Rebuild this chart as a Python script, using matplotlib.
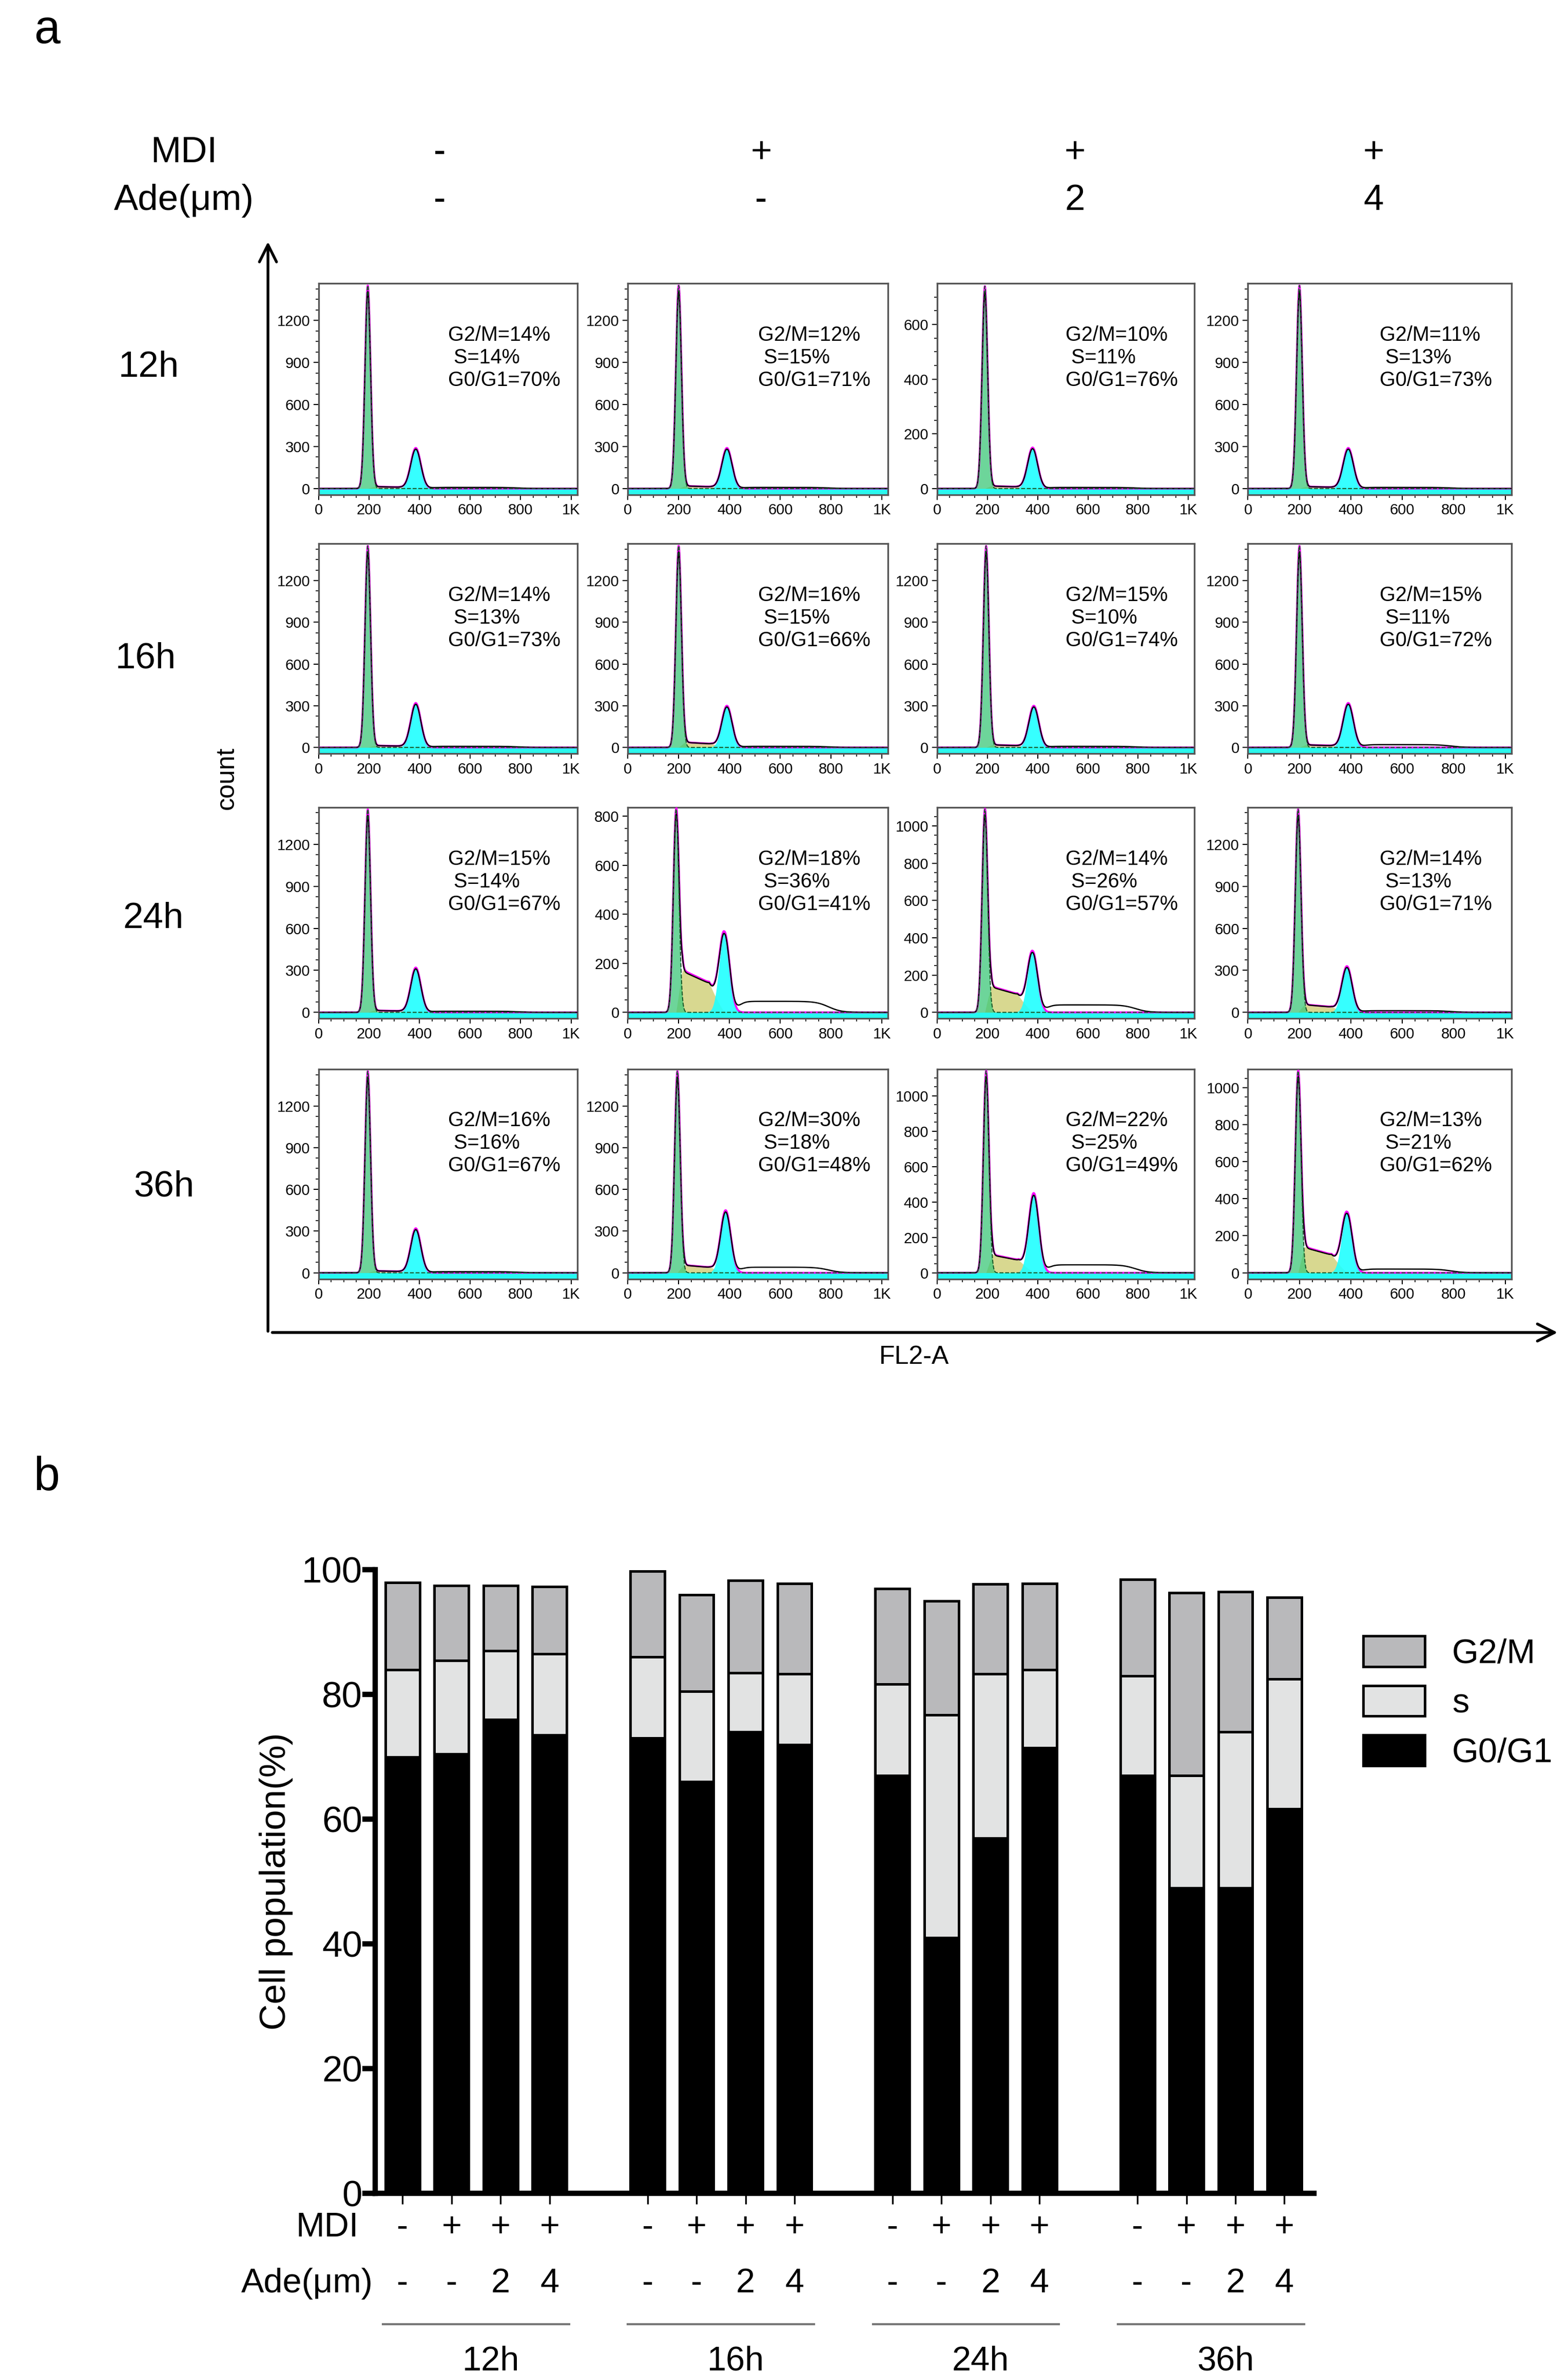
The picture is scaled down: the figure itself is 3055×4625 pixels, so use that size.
import numpy as np
import matplotlib
matplotlib.use("Agg")
import matplotlib.pyplot as plt

# ---------------- data ----------------
times = ["12h", "16h", "24h", "36h"]
mdi = ["-", "+", "+", "+"]
ade = ["-", "-", "2", "4"]

# panel a: percentages printed in each histogram (rows = time, cols = treatment)
g2m_pct = [[14, 12, 10, 11], [14, 16, 15, 15], [15, 18, 14, 14], [16, 30, 22, 13]]
s_pct = [[14, 15, 11, 13], [13, 15, 10, 11], [14, 36, 26, 13], [16, 18, 25, 21]]
g1_pct = [[70, 71, 76, 73], [73, 66, 74, 72], [67, 41, 57, 71], [67, 48, 49, 62]]

# y axis top tick of each histogram and visible y range
y_top_tick = [[1200, 1200, 600, 1200], [1200, 1200, 1200, 1200],
              [1200, 800, 1000, 1200], [1200, 1200, 1000, 1000]]
y_step = [[300, 300, 200, 300], [300, 300, 300, 300],
          [300, 200, 200, 300], [300, 300, 200, 200]]
y_max = [[1465, 1465, 750, 1465], [1465, 1465, 1465, 1465],
         [1465, 837, 1100, 1465], [1465, 1465, 1150, 1100]]

# peak heights (counts)
g1_height = [[1450, 1450, 740, 1450], [1450, 1450, 1450, 1450],
             [1450, 830, 1090, 1450], [1450, 1450, 1140, 1090]]
g2_height = [[290, 290, 150, 290], [320, 300, 300, 320],
             [320, 330, 330, 330], [320, 450, 450, 330]]
s_height = [[15, 20, 10, 15], [15, 40, 20, 20], [15, 185, 150, 60], [15, 60, 110, 150]]
tail_height = [[8, 8, 4, 8], [8, 8, 8, 20], [8, 45, 40, 12], [8, 40, 45, 20]]
g1_pos = [[195, 200, 190, 200], [195, 200, 195, 200], [195, 190, 190, 195], [195, 195, 195, 195]]
g2_pos = [[385, 390, 380, 390], [385, 390, 385, 390], [385, 380, 380, 385], [385, 385, 385, 385]]

# panel b: stacked bars (%)
bar_g1 = [70, 70.5, 76, 73.5, 73, 66, 74, 72, 67, 41, 57, 71.5, 67, 49, 49, 61.7]
bar_s = [14, 15, 11, 13, 13, 14.5, 9.5, 11.3, 14.7, 35.7, 26.3, 12.5, 16, 18, 25, 20.8]
bar_g2 = [14, 12, 10.5, 10.8, 13.8, 15.5, 14.8, 14.5, 15.3, 18.3, 14.4, 13.8, 15.5, 29.3, 22.5, 13.1]
bar_mdi = mdi * 4
bar_ade = ade * 4

# ---------------- figure ----------------
W, H = 1024.0, 1550.0
fig = plt.figure(figsize=(3055 / 300, 4625 / 300), dpi=300)
plt.rcParams["font.family"] = "Liberation Sans"


def box(x0, y0, x1, y1):
    return [x0 / W, 1 - y1 / H, (x1 - x0) / W, (y1 - y0) / H]


def fx(x):
    return x / W


def fy(y):
    return 1 - y / H


def gauss(x, mu, sd):
    return np.exp(-0.5 * ((x - mu) / sd) ** 2)


fig.text(fx(22), fy(20), "a", fontsize=22, va="center")
fig.text(fx(22), fy(965), "b", fontsize=22, va="center")

fig.text(fx(120), fy(100), "MDI", fontsize=17, ha="center", va="center")
fig.text(fx(120), fy(131), "Ade(μm)", fontsize=17, ha="center", va="center")
col_x = [287, 497, 702, 897]
for c in range(4):
    fig.text(fx(col_x[c]), fy(100), mdi[c], fontsize=17, ha="center", va="center")
    fig.text(fx(col_x[c]), fy(131), ade[c], fontsize=17, ha="center", va="center")

row_y = [240, 430, 600, 775]
row_x = [97, 95, 100, 107]
for r in range(4):
    fig.text(fx(row_x[r]), fy(row_y[r]), times[r], fontsize=17, ha="center", va="center")

fig.text(fx(148), fy(508), "count", fontsize=12, rotation=90, ha="center", va="center")
fig.text(fx(597), fy(886), "FL2-A", fontsize=12, ha="center", va="center")

# big arrows
fig.add_artist(matplotlib.patches.FancyArrowPatch((fx(175), fy(872)), (fx(175), fy(155)),
               transform=fig.transFigure, arrowstyle="->,head_width=4,head_length=8", lw=1.3, color="k"))
fig.add_artist(matplotlib.patches.FancyArrowPatch((fx(175), fy(870)), (fx(1020), fy(870)),
               transform=fig.transFigure, arrowstyle="->,head_width=4,head_length=8", lw=1.3, color="k"))

panel_x = [(208, 377), (410, 580), (612, 780), (815, 987)]
panel_y = [(185, 323), (355, 492), (527, 665), (698, 835)]
xs = np.linspace(0, 1024, 1200)

for r in range(4):
    for c in range(4):
        ax = fig.add_axes(box(panel_x[c][0], panel_y[r][0], panel_x[c][1], panel_y[r][1]))
        top = y_max[r][c]
        base = -0.02 * top
        m1, m2 = g1_pos[r][c], g2_pos[r][c]
        g1 = g1_height[r][c] * gauss(xs, m1, 11)
        g2 = g2_height[r][c] * gauss(xs, m2, 20)
        sph = s_height[r][c] * np.clip((xs - m1) / 25, 0, 1) * np.clip((m2 - xs) / 60, 0, 1) \
            * (1 - 0.5 * np.clip((xs - m1) / (m2 - m1), 0, 1))
        tail = tail_height[r][c] / (1 + np.exp(-(xs - m2 - 55) / 12)) / (1 + np.exp((xs - 790) / 25))
        total = g1 + g2 + sph
        ax.fill_between(xs, base, sph, color="#d8d890", lw=0, zorder=1)
        ax.fill_between(xs, base, g1, color="#3cc878", alpha=0.75, lw=0, zorder=2)
        ax.fill_between(xs, base, g2, color="#20ffff", alpha=0.9, lw=0, zorder=2)
        ax.plot(xs, total, color="#ff00ff", lw=0.9, zorder=3)
        ax.plot(xs, total * 0.97 + tail, color="k", lw=0.6, ls="-", zorder=4)
        ax.plot(xs, g1, color="#1a5a2a", lw=0.5, ls="--", zorder=4)
        ax.axhline(base, color="#20ffff", lw=1.2, zorder=0)
        ax.set_xlim(0, 1024)
        ax.set_ylim(base * 1.5, top)
        ax.set_xticks([0, 200, 400, 600, 800, 1000])
        ax.set_xticklabels(["0", "200", "400", "600", "800", "1K"])
        ax.set_xticks(np.arange(0, 1024, 50), minor=True)
        ax.set_yticks(np.arange(0, y_top_tick[r][c] + 1, y_step[r][c]))
        ax.set_yticks(np.arange(0, top, y_step[r][c] / 4), minor=True)
        ax.tick_params(labelsize=7, length=2.5, width=0.5, pad=1.5)
        ax.tick_params(which="minor", length=1.5, width=0.4)
        for s in ax.spines.values():
            s.set_color("#555555")
            s.set_linewidth(0.8)
        txt = "G2/M=%d%%\n S=%d%%\nG0/G1=%d%%" % (g2m_pct[r][c], s_pct[r][c], g1_pct[r][c])
        ax.text(0.5, 0.8, txt, transform=ax.transAxes, fontsize=9.5, ha="left", va="top",
                linespacing=1.2)

# ---------------- panel b ----------------
bx = fig.add_axes(box(245, 1025, 858, 1432))
pos = [g * 5 + i for g in range(4) for i in range(4)]
bot_s = [a for a in bar_g1]
bot_g2 = [a + b for a, b in zip(bar_g1, bar_s)]
bx.bar(pos, bar_g1, width=0.7, color="black", edgecolor="black", lw=1.2, label="G0/G1")
bx.bar(pos, bar_s, bottom=bot_s, width=0.7, color="#e2e3e3", edgecolor="black", lw=1.2, label="s")
bx.bar(pos, bar_g2, bottom=bot_g2, width=0.7, color="#b9b9bb", edgecolor="black", lw=1.2, label="G2/M")
bx.set_xlim(-0.56, 18.6)
bx.set_ylim(0, 100)
for child in bx.patches:
    child.set_clip_on(False)
bx.spines["top"].set_visible(False)
bx.spines["right"].set_visible(False)
bx.spines["left"].set_linewidth(2.5)
bx.spines["bottom"].set_linewidth(2.5)
bx.set_yticks([0, 20, 40, 60, 80, 100])
bx.tick_params(axis="y", labelsize=17, length=6, width=2.5, pad=0)
bx.set_xticks(pos)
bx.set_xticklabels([])
bx.tick_params(axis="x", length=5, width=0.8)
bx.set_ylabel("Cell population(%)", fontsize=17, labelpad=4)

tr = bx.get_xaxis_transform()
for k, p in enumerate(pos):
    bx.text(p, -0.055, bar_mdi[k], transform=tr, fontsize=16, ha="center", va="center")
    bx.text(p, -0.145, bar_ade[k], transform=tr, fontsize=16, ha="center", va="center")
bx.text(-0.9, -0.055, "MDI", transform=tr, fontsize=16, ha="right", va="center")
bx.text(-0.6, -0.145, "Ade(μm)", transform=tr, fontsize=16, ha="right", va="center")
for g in range(4):
    bx.plot([g * 5 - 0.4, g * 5 + 3.4], [-0.21, -0.21], transform=tr, color="#777777",
            lw=1, clip_on=False)
    bx.text(g * 5 + 1.8, -0.27, times[g], transform=tr, fontsize=16, ha="center", va="center")

h, l = bx.get_legend_handles_labels()
fig.legend(h[::-1], l[::-1], loc="upper left", bbox_to_anchor=(fx(870), fy(1048)),
           frameon=False, fontsize=16, handlelength=1.8, handleheight=1.0, labelspacing=0.45)

fig.savefig("out.png", dpi=300)
